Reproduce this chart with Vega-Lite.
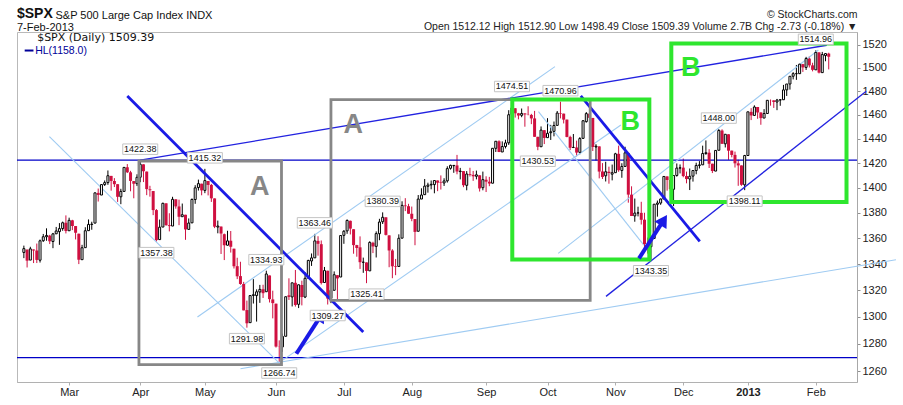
{
  "$schema": "https://vega.github.io/schema/vega-lite/v6.json",
  "width": 840,
  "height": 350,
  "autosize": {"type": "none"},
  "padding": {"left": 17, "top": 32, "right": 46, "bottom": 23},
  "background": "white",
  "config": {
    "view": {"stroke": "#b9b9b9"},
    "axis": {"labelFont": "Liberation Sans", "titleFont": "Liberation Sans"}
  },
  "title": {
    "text": "$SPX",
    "subtitle": "7-Feb-2013",
    "anchor": "start",
    "frame": "group",
    "font": "Liberation Sans",
    "fontSize": 14,
    "fontWeight": "bold",
    "color": "#111111",
    "subtitleFont": "Liberation Sans",
    "subtitleFontSize": 11,
    "subtitleColor": "#111111",
    "subtitlePadding": 1,
    "offset": -24
  },
  "datasets": {
    "spx": [
      {"d":"2012-02-09","t":0,"o":1349.0,"h":1354.3,"l":1344.6,"c":1351.95},
      {"d":"2012-02-10","t":1,"o":1351.2,"h":1351.2,"l":1337.4,"c":1342.64},
      {"d":"2012-02-13","t":2,"o":1343.1,"h":1353.4,"l":1343.1,"c":1351.77},
      {"d":"2012-02-14","t":3,"o":1351.3,"h":1351.3,"l":1340.8,"c":1350.5},
      {"d":"2012-02-15","t":4,"o":1350.5,"h":1355.9,"l":1340.8,"c":1343.23},
      {"d":"2012-02-16","t":5,"o":1343.0,"h":1359.0,"l":1341.2,"c":1358.04},
      {"d":"2012-02-17","t":6,"o":1358.1,"h":1363.4,"l":1357.2,"c":1361.23},
      {"d":"2012-02-21","t":7,"o":1361.2,"h":1367.8,"l":1358.1,"c":1362.21},
      {"d":"2012-02-22","t":8,"o":1362.1,"h":1362.7,"l":1355.5,"c":1357.66},
      {"d":"2012-02-23","t":9,"o":1357.5,"h":1364.2,"l":1352.3,"c":1363.46},
      {"d":"2012-02-24","t":10,"o":1363.5,"h":1368.9,"l":1363.5,"c":1365.74},
      {"d":"2012-02-27","t":11,"o":1365.2,"h":1371.9,"l":1354.9,"c":1367.59},
      {"d":"2012-02-28","t":12,"o":1367.6,"h":1373.1,"l":1365.9,"c":1372.18},
      {"d":"2012-02-29","t":13,"o":1372.2,"h":1378.0,"l":1363.8,"c":1365.68},
      {"d":"2012-03-01","t":14,"o":1365.9,"h":1376.2,"l":1365.9,"c":1374.09},
      {"d":"2012-03-02","t":15,"o":1374.1,"h":1374.5,"l":1366.4,"c":1369.63},
      {"d":"2012-03-05","t":16,"o":1369.6,"h":1369.6,"l":1359.1,"c":1364.33},
      {"d":"2012-03-06","t":17,"o":1363.6,"h":1363.6,"l":1340.0,"c":1343.36},
      {"d":"2012-03-07","t":18,"o":1343.4,"h":1354.9,"l":1343.4,"c":1352.63},
      {"d":"2012-03-08","t":19,"o":1352.7,"h":1368.7,"l":1352.7,"c":1365.91},
      {"d":"2012-03-09","t":20,"o":1365.97,"h":1374.8,"l":1365.9,"c":1370.87},
      {"d":"2012-03-12","t":21,"o":1370.8,"h":1373.0,"l":1366.7,"c":1371.09},
      {"d":"2012-03-13","t":22,"o":1371.9,"h":1396.1,"l":1371.9,"c":1395.95},
      {"d":"2012-03-14","t":23,"o":1395.9,"h":1399.4,"l":1389.0,"c":1394.28},
      {"d":"2012-03-15","t":24,"o":1394.2,"h":1402.6,"l":1394.2,"c":1402.6},
      {"d":"2012-03-16","t":25,"o":1402.6,"h":1405.9,"l":1401.5,"c":1404.17},
      {"d":"2012-03-19","t":26,"o":1404.2,"h":1414.0,"l":1402.4,"c":1409.75},
      {"d":"2012-03-20","t":27,"o":1409.6,"h":1409.6,"l":1397.7,"c":1405.52},
      {"d":"2012-03-21","t":28,"o":1405.5,"h":1407.8,"l":1400.6,"c":1402.89},
      {"d":"2012-03-22","t":29,"o":1402.9,"h":1402.9,"l":1388.7,"c":1392.78},
      {"d":"2012-03-23","t":30,"o":1392.8,"h":1399.2,"l":1386.9,"c":1397.11},
      {"d":"2012-03-26","t":31,"o":1397.1,"h":1416.6,"l":1397.1,"c":1416.51},
      {"d":"2012-03-27","t":32,"o":1416.6,"h":1419.2,"l":1411.9,"c":1412.52},
      {"d":"2012-03-28","t":33,"o":1412.5,"h":1413.7,"l":1397.2,"c":1405.54},
      {"d":"2012-03-29","t":34,"o":1405.4,"h":1405.4,"l":1391.6,"c":1403.28},
      {"d":"2012-03-30","t":35,"o":1403.3,"h":1410.9,"l":1401.4,"c":1408.47},
      {"d":"2012-04-02","t":36,"o":1408.5,"h":1422.38,"l":1404.5,"c":1419.04},
      {"d":"2012-04-03","t":37,"o":1418.98,"h":1419.0,"l":1404.6,"c":1413.38},
      {"d":"2012-04-04","t":38,"o":1413.1,"h":1413.1,"l":1394.1,"c":1398.96},
      {"d":"2012-04-05","t":39,"o":1398.8,"h":1401.6,"l":1392.9,"c":1398.08},
      {"d":"2012-04-09","t":40,"o":1397.4,"h":1397.4,"l":1378.2,"c":1382.2},
      {"d":"2012-04-10","t":41,"o":1382.2,"h":1383.0,"l":1357.38,"c":1358.59},
      {"d":"2012-04-11","t":42,"o":1358.98,"h":1374.7,"l":1358.98,"c":1368.71},
      {"d":"2012-04-12","t":43,"o":1368.8,"h":1388.1,"l":1368.8,"c":1387.57},
      {"d":"2012-04-13","t":44,"o":1387.6,"h":1387.6,"l":1369.9,"c":1370.26},
      {"d":"2012-04-16","t":45,"o":1370.3,"h":1379.7,"l":1365.4,"c":1369.57},
      {"d":"2012-04-17","t":46,"o":1369.6,"h":1392.8,"l":1369.6,"c":1390.78},
      {"d":"2012-04-18","t":47,"o":1390.8,"h":1390.8,"l":1383.3,"c":1385.14},
      {"d":"2012-04-19","t":48,"o":1385.1,"h":1390.5,"l":1370.3,"c":1376.92},
      {"d":"2012-04-20","t":49,"o":1376.96,"h":1387.4,"l":1376.96,"c":1378.53},
      {"d":"2012-04-23","t":50,"o":1378.5,"h":1378.5,"l":1358.8,"c":1366.94},
      {"d":"2012-04-24","t":51,"o":1366.97,"h":1375.6,"l":1366.8,"c":1371.97},
      {"d":"2012-04-25","t":52,"o":1372.1,"h":1391.4,"l":1372.1,"c":1390.69},
      {"d":"2012-04-26","t":53,"o":1390.6,"h":1402.1,"l":1387.2,"c":1399.98},
      {"d":"2012-04-27","t":54,"o":1400.2,"h":1406.6,"l":1397.8,"c":1403.36},
      {"d":"2012-04-30","t":55,"o":1403.3,"h":1403.3,"l":1394.0,"c":1397.91},
      {"d":"2012-05-01","t":56,"o":1397.9,"h":1415.32,"l":1395.7,"c":1405.82},
      {"d":"2012-05-02","t":57,"o":1405.5,"h":1405.5,"l":1393.9,"c":1402.31},
      {"d":"2012-05-03","t":58,"o":1402.3,"h":1403.1,"l":1388.7,"c":1391.57},
      {"d":"2012-05-04","t":59,"o":1391.5,"h":1391.5,"l":1367.96,"c":1369.1},
      {"d":"2012-05-07","t":60,"o":1368.8,"h":1373.9,"l":1363.9,"c":1369.58},
      {"d":"2012-05-08","t":61,"o":1369.2,"h":1369.2,"l":1347.8,"c":1363.72},
      {"d":"2012-05-09","t":62,"o":1363.2,"h":1363.7,"l":1343.1,"c":1354.58},
      {"d":"2012-05-10","t":63,"o":1354.6,"h":1365.9,"l":1354.4,"c":1357.99},
      {"d":"2012-05-11","t":64,"o":1358.1,"h":1365.7,"l":1348.9,"c":1353.39},
      {"d":"2012-05-14","t":65,"o":1351.9,"h":1351.9,"l":1336.6,"c":1338.35},
      {"d":"2012-05-15","t":66,"o":1338.4,"h":1344.9,"l":1328.5,"c":1330.66},
      {"d":"2012-05-16","t":67,"o":1330.8,"h":1341.8,"l":1324.2,"c":1324.8},
      {"d":"2012-05-17","t":68,"o":1324.8,"h":1326.4,"l":1304.9,"c":1304.86},
      {"d":"2012-05-18","t":69,"o":1305.1,"h":1312.2,"l":1291.98,"c":1295.22},
      {"d":"2012-05-21","t":70,"o":1295.7,"h":1316.4,"l":1295.7,"c":1315.99},
      {"d":"2012-05-22","t":71,"o":1316.1,"h":1328.5,"l":1310.0,"c":1316.63},
      {"d":"2012-05-23","t":72,"o":1316.0,"h":1320.7,"l":1296.5,"c":1318.86},
      {"d":"2012-05-24","t":73,"o":1318.7,"h":1324.1,"l":1310.5,"c":1320.68},
      {"d":"2012-05-25","t":74,"o":1320.8,"h":1324.2,"l":1314.2,"c":1317.82},
      {"d":"2012-05-29","t":75,"o":1318.9,"h":1334.93,"l":1318.9,"c":1332.42},
      {"d":"2012-05-30","t":76,"o":1331.3,"h":1331.3,"l":1310.8,"c":1313.32},
      {"d":"2012-05-31","t":77,"o":1313.1,"h":1319.7,"l":1298.9,"c":1310.33},
      {"d":"2012-06-01","t":78,"o":1309.9,"h":1309.9,"l":1277.3,"c":1278.04},
      {"d":"2012-06-04","t":79,"o":1278.3,"h":1282.6,"l":1266.74,"c":1278.18},
      {"d":"2012-06-05","t":80,"o":1277.8,"h":1287.6,"l":1274.2,"c":1285.5},
      {"d":"2012-06-06","t":81,"o":1285.6,"h":1315.1,"l":1285.6,"c":1315.13},
      {"d":"2012-06-07","t":82,"o":1316.2,"h":1329.1,"l":1312.7,"c":1314.99},
      {"d":"2012-06-08","t":83,"o":1314.99,"h":1325.8,"l":1307.8,"c":1325.66},
      {"d":"2012-06-11","t":84,"o":1325.7,"h":1335.5,"l":1307.7,"c":1308.93},
      {"d":"2012-06-12","t":85,"o":1309.4,"h":1324.3,"l":1306.6,"c":1324.18},
      {"d":"2012-06-13","t":86,"o":1324.0,"h":1327.3,"l":1308.6,"c":1314.88},
      {"d":"2012-06-14","t":87,"o":1314.9,"h":1333.7,"l":1314.1,"c":1329.1},
      {"d":"2012-06-15","t":88,"o":1329.2,"h":1343.3,"l":1329.2,"c":1342.84},
      {"d":"2012-06-18","t":89,"o":1342.4,"h":1348.2,"l":1338.6,"c":1344.78},
      {"d":"2012-06-19","t":90,"o":1344.8,"h":1363.46,"l":1344.8,"c":1357.98},
      {"d":"2012-06-20","t":91,"o":1358.0,"h":1361.6,"l":1346.5,"c":1355.69},
      {"d":"2012-06-21","t":92,"o":1355.4,"h":1358.3,"l":1324.4,"c":1325.51},
      {"d":"2012-06-22","t":93,"o":1325.9,"h":1337.8,"l":1325.9,"c":1335.02},
      {"d":"2012-06-25","t":94,"o":1334.9,"h":1334.9,"l":1309.27,"c":1313.72},
      {"d":"2012-06-26","t":95,"o":1314.1,"h":1324.2,"l":1310.3,"c":1319.99},
      {"d":"2012-06-27","t":96,"o":1320.0,"h":1334.4,"l":1320.0,"c":1331.85},
      {"d":"2012-06-28","t":97,"o":1331.5,"h":1331.5,"l":1313.3,"c":1329.04},
      {"d":"2012-06-29","t":98,"o":1330.1,"h":1362.2,"l":1330.1,"c":1362.16},
      {"d":"2012-07-02","t":99,"o":1362.3,"h":1366.4,"l":1355.7,"c":1365.51},
      {"d":"2012-07-03","t":100,"o":1365.8,"h":1374.8,"l":1363.5,"c":1374.02},
      {"d":"2012-07-05","t":101,"o":1373.7,"h":1373.9,"l":1363.0,"c":1367.58},
      {"d":"2012-07-06","t":102,"o":1367.1,"h":1367.1,"l":1348.0,"c":1354.68},
      {"d":"2012-07-09","t":103,"o":1354.7,"h":1354.9,"l":1345.7,"c":1352.46},
      {"d":"2012-07-10","t":104,"o":1352.96,"h":1361.5,"l":1336.3,"c":1341.47},
      {"d":"2012-07-11","t":105,"o":1341.4,"h":1345.0,"l":1333.3,"c":1341.45},
      {"d":"2012-07-12","t":106,"o":1341.3,"h":1341.3,"l":1325.41,"c":1334.76},
      {"d":"2012-07-13","t":107,"o":1334.8,"h":1357.7,"l":1334.8,"c":1356.78},
      {"d":"2012-07-16","t":108,"o":1356.5,"h":1357.3,"l":1348.5,"c":1353.64},
      {"d":"2012-07-17","t":109,"o":1353.7,"h":1365.4,"l":1345.1,"c":1363.67},
      {"d":"2012-07-18","t":110,"o":1363.6,"h":1375.3,"l":1358.5,"c":1372.78},
      {"d":"2012-07-19","t":111,"o":1373.0,"h":1380.39,"l":1371.2,"c":1376.51},
      {"d":"2012-07-20","t":112,"o":1376.5,"h":1376.5,"l":1362.2,"c":1362.66},
      {"d":"2012-07-23","t":113,"o":1362.3,"h":1362.3,"l":1337.6,"c":1350.52},
      {"d":"2012-07-24","t":114,"o":1350.5,"h":1351.5,"l":1329.2,"c":1338.31},
      {"d":"2012-07-25","t":115,"o":1338.4,"h":1343.98,"l":1331.5,"c":1337.89},
      {"d":"2012-07-26","t":116,"o":1338.2,"h":1363.1,"l":1338.2,"c":1360.02},
      {"d":"2012-07-27","t":117,"o":1360.1,"h":1389.2,"l":1360.1,"c":1385.97},
      {"d":"2012-07-30","t":118,"o":1385.9,"h":1391.7,"l":1381.4,"c":1385.3},
      {"d":"2012-07-31","t":119,"o":1385.3,"h":1387.2,"l":1379.2,"c":1379.32},
      {"d":"2012-08-01","t":120,"o":1379.3,"h":1385.0,"l":1373.4,"c":1375.32},
      {"d":"2012-08-02","t":121,"o":1375.1,"h":1375.1,"l":1354.6,"c":1365.0},
      {"d":"2012-08-03","t":122,"o":1365.5,"h":1394.2,"l":1365.5,"c":1390.99},
      {"d":"2012-08-06","t":123,"o":1391.0,"h":1399.6,"l":1391.0,"c":1394.23},
      {"d":"2012-08-07","t":124,"o":1394.5,"h":1407.1,"l":1394.5,"c":1401.35},
      {"d":"2012-08-08","t":125,"o":1401.2,"h":1404.1,"l":1396.1,"c":1402.22},
      {"d":"2012-08-09","t":126,"o":1402.3,"h":1405.9,"l":1398.8,"c":1402.8},
      {"d":"2012-08-10","t":127,"o":1402.6,"h":1405.9,"l":1395.6,"c":1405.87},
      {"d":"2012-08-13","t":128,"o":1405.9,"h":1405.9,"l":1397.3,"c":1404.11},
      {"d":"2012-08-14","t":129,"o":1404.4,"h":1410.0,"l":1398.6,"c":1403.93},
      {"d":"2012-08-15","t":130,"o":1403.9,"h":1407.7,"l":1401.5,"c":1405.53},
      {"d":"2012-08-16","t":131,"o":1405.6,"h":1417.4,"l":1404.2,"c":1415.51},
      {"d":"2012-08-17","t":132,"o":1415.8,"h":1418.7,"l":1414.7,"c":1418.16},
      {"d":"2012-08-20","t":133,"o":1417.9,"h":1418.1,"l":1412.1,"c":1418.13},
      {"d":"2012-08-21","t":134,"o":1418.1,"h":1426.7,"l":1410.9,"c":1413.17},
      {"d":"2012-08-22","t":135,"o":1413.1,"h":1416.1,"l":1406.8,"c":1413.49},
      {"d":"2012-08-23","t":136,"o":1413.5,"h":1413.5,"l":1400.5,"c":1402.08},
      {"d":"2012-08-24","t":137,"o":1401.99,"h":1413.5,"l":1398.0,"c":1411.13},
      {"d":"2012-08-27","t":138,"o":1411.1,"h":1416.2,"l":1409.1,"c":1410.44},
      {"d":"2012-08-28","t":139,"o":1410.4,"h":1413.6,"l":1405.6,"c":1409.3},
      {"d":"2012-08-29","t":140,"o":1409.3,"h":1413.9,"l":1406.8,"c":1410.49},
      {"d":"2012-08-30","t":141,"o":1410.1,"h":1410.1,"l":1397.0,"c":1399.48},
      {"d":"2012-08-31","t":142,"o":1400.1,"h":1413.1,"l":1398.0,"c":1406.58},
      {"d":"2012-09-04","t":143,"o":1406.5,"h":1409.3,"l":1396.6,"c":1404.94},
      {"d":"2012-09-05","t":144,"o":1404.9,"h":1408.8,"l":1401.3,"c":1403.44},
      {"d":"2012-09-06","t":145,"o":1403.7,"h":1432.1,"l":1403.7,"c":1432.12},
      {"d":"2012-09-07","t":146,"o":1432.1,"h":1437.9,"l":1429.1,"c":1437.92},
      {"d":"2012-09-10","t":147,"o":1437.9,"h":1438.7,"l":1428.98,"c":1429.08},
      {"d":"2012-09-11","t":148,"o":1429.1,"h":1437.8,"l":1429.1,"c":1433.56},
      {"d":"2012-09-12","t":149,"o":1433.6,"h":1439.2,"l":1432.0,"c":1436.56},
      {"d":"2012-09-13","t":150,"o":1436.6,"h":1463.8,"l":1434.9,"c":1459.99},
      {"d":"2012-09-14","t":151,"o":1460.1,"h":1474.51,"l":1460.1,"c":1465.77},
      {"d":"2012-09-17","t":152,"o":1465.4,"h":1465.6,"l":1457.6,"c":1461.19},
      {"d":"2012-09-18","t":153,"o":1461.2,"h":1461.5,"l":1456.1,"c":1459.32},
      {"d":"2012-09-19","t":154,"o":1459.5,"h":1465.2,"l":1457.9,"c":1461.05},
      {"d":"2012-09-20","t":155,"o":1461.1,"h":1461.2,"l":1449.98,"c":1460.26},
      {"d":"2012-09-21","t":156,"o":1460.3,"h":1467.1,"l":1459.5,"c":1460.15},
      {"d":"2012-09-24","t":157,"o":1459.8,"h":1460.7,"l":1452.1,"c":1456.89},
      {"d":"2012-09-25","t":158,"o":1456.9,"h":1463.2,"l":1441.6,"c":1441.59},
      {"d":"2012-09-26","t":159,"o":1441.6,"h":1441.6,"l":1430.53,"c":1433.32},
      {"d":"2012-09-27","t":160,"o":1433.4,"h":1450.2,"l":1433.4,"c":1447.15},
      {"d":"2012-09-28","t":161,"o":1447.1,"h":1447.1,"l":1435.6,"c":1440.67},
      {"d":"2012-10-01","t":162,"o":1440.9,"h":1457.1,"l":1440.9,"c":1444.49},
      {"d":"2012-10-02","t":163,"o":1444.99,"h":1451.5,"l":1439.0,"c":1445.75},
      {"d":"2012-10-03","t":164,"o":1446.1,"h":1454.3,"l":1441.99,"c":1450.99},
      {"d":"2012-10-04","t":165,"o":1451.1,"h":1463.1,"l":1451.1,"c":1461.4},
      {"d":"2012-10-05","t":166,"o":1461.4,"h":1470.96,"l":1456.9,"c":1460.93},
      {"d":"2012-10-08","t":167,"o":1460.9,"h":1460.9,"l":1452.7,"c":1455.88},
      {"d":"2012-10-09","t":168,"o":1455.9,"h":1455.9,"l":1441.2,"c":1441.48},
      {"d":"2012-10-10","t":169,"o":1441.5,"h":1442.5,"l":1430.6,"c":1432.56},
      {"d":"2012-10-11","t":170,"o":1432.8,"h":1443.9,"l":1432.3,"c":1432.84},
      {"d":"2012-10-12","t":171,"o":1432.8,"h":1438.4,"l":1425.5,"c":1428.59},
      {"d":"2012-10-15","t":172,"o":1428.8,"h":1441.3,"l":1427.2,"c":1440.13},
      {"d":"2012-10-16","t":173,"o":1440.3,"h":1455.5,"l":1440.3,"c":1454.92},
      {"d":"2012-10-17","t":174,"o":1454.2,"h":1462.2,"l":1453.4,"c":1460.91},
      {"d":"2012-10-18","t":175,"o":1460.9,"h":1464.0,"l":1452.6,"c":1457.34},
      {"d":"2012-10-19","t":176,"o":1457.3,"h":1457.3,"l":1429.9,"c":1433.19},
      {"d":"2012-10-22","t":177,"o":1433.2,"h":1435.5,"l":1422.1,"c":1433.82},
      {"d":"2012-10-23","t":178,"o":1433.7,"h":1433.7,"l":1407.6,"c":1413.11},
      {"d":"2012-10-24","t":179,"o":1413.2,"h":1420.0,"l":1407.1,"c":1408.75},
      {"d":"2012-10-25","t":180,"o":1409.7,"h":1421.1,"l":1405.1,"c":1412.97},
      {"d":"2012-10-26","t":181,"o":1412.97,"h":1417.1,"l":1403.3,"c":1411.94},
      {"d":"2012-10-31","t":182,"o":1410.99,"h":1418.8,"l":1405.99,"c":1412.16},
      {"d":"2012-11-01","t":183,"o":1412.2,"h":1428.4,"l":1412.2,"c":1427.59},
      {"d":"2012-11-02","t":184,"o":1427.6,"h":1434.3,"l":1412.9,"c":1414.2},
      {"d":"2012-11-05","t":185,"o":1414.0,"h":1419.9,"l":1408.1,"c":1417.26},
      {"d":"2012-11-06","t":186,"o":1417.3,"h":1433.4,"l":1417.3,"c":1428.39},
      {"d":"2012-11-07","t":187,"o":1428.3,"h":1428.3,"l":1388.1,"c":1394.53},
      {"d":"2012-11-08","t":188,"o":1394.5,"h":1401.2,"l":1377.5,"c":1377.51},
      {"d":"2012-11-09","t":189,"o":1377.6,"h":1391.4,"l":1373.0,"c":1379.85},
      {"d":"2012-11-12","t":190,"o":1379.9,"h":1384.9,"l":1377.2,"c":1380.03},
      {"d":"2012-11-13","t":191,"o":1380.0,"h":1388.8,"l":1370.8,"c":1374.53},
      {"d":"2012-11-14","t":192,"o":1374.6,"h":1380.1,"l":1352.5,"c":1355.49},
      {"d":"2012-11-15","t":193,"o":1355.4,"h":1360.6,"l":1348.1,"c":1353.33},
      {"d":"2012-11-16","t":194,"o":1353.4,"h":1362.0,"l":1343.35,"c":1359.88},
      {"d":"2012-11-19","t":195,"o":1359.9,"h":1386.9,"l":1359.9,"c":1386.89},
      {"d":"2012-11-20","t":196,"o":1386.8,"h":1389.8,"l":1377.0,"c":1387.81},
      {"d":"2012-11-21","t":197,"o":1387.8,"h":1391.3,"l":1386.4,"c":1391.03},
      {"d":"2012-11-23","t":198,"o":1391.0,"h":1409.2,"l":1391.0,"c":1409.15},
      {"d":"2012-11-26","t":199,"o":1409.2,"h":1409.2,"l":1397.7,"c":1406.29},
      {"d":"2012-11-27","t":200,"o":1406.3,"h":1409.0,"l":1397.8,"c":1398.94},
      {"d":"2012-11-28","t":201,"o":1398.8,"h":1410.0,"l":1385.4,"c":1409.93},
      {"d":"2012-11-29","t":202,"o":1409.96,"h":1419.7,"l":1409.0,"c":1415.95},
      {"d":"2012-11-30","t":203,"o":1415.95,"h":1418.9,"l":1411.6,"c":1416.18},
      {"d":"2012-12-03","t":204,"o":1416.3,"h":1423.7,"l":1408.5,"c":1409.46},
      {"d":"2012-12-04","t":205,"o":1409.5,"h":1413.1,"l":1403.6,"c":1407.05},
      {"d":"2012-12-05","t":206,"o":1407.1,"h":1415.6,"l":1398.2,"c":1409.28},
      {"d":"2012-12-06","t":207,"o":1409.4,"h":1413.9,"l":1405.0,"c":1413.94},
      {"d":"2012-12-07","t":208,"o":1413.95,"h":1420.3,"l":1410.9,"c":1418.07},
      {"d":"2012-12-10","t":209,"o":1418.1,"h":1421.6,"l":1415.6,"c":1418.55},
      {"d":"2012-12-11","t":210,"o":1418.6,"h":1434.3,"l":1418.6,"c":1427.84},
      {"d":"2012-12-12","t":211,"o":1427.8,"h":1438.6,"l":1426.8,"c":1428.48},
      {"d":"2012-12-13","t":212,"o":1428.5,"h":1431.4,"l":1416.0,"c":1419.45},
      {"d":"2012-12-14","t":213,"o":1419.5,"h":1419.5,"l":1411.9,"c":1413.58},
      {"d":"2012-12-17","t":214,"o":1413.5,"h":1430.7,"l":1413.5,"c":1430.36},
      {"d":"2012-12-18","t":215,"o":1430.5,"h":1448.0,"l":1430.5,"c":1446.79},
      {"d":"2012-12-19","t":216,"o":1446.8,"h":1447.8,"l":1435.8,"c":1435.81},
      {"d":"2012-12-20","t":217,"o":1435.8,"h":1443.7,"l":1432.8,"c":1443.69},
      {"d":"2012-12-21","t":218,"o":1443.7,"h":1443.7,"l":1422.6,"c":1430.15},
      {"d":"2012-12-24","t":219,"o":1430.2,"h":1430.2,"l":1424.7,"c":1426.66},
      {"d":"2012-12-26","t":220,"o":1426.7,"h":1429.4,"l":1416.4,"c":1419.83},
      {"d":"2012-12-27","t":221,"o":1419.8,"h":1422.8,"l":1401.6,"c":1418.1},
      {"d":"2012-12-28","t":222,"o":1418.1,"h":1418.1,"l":1401.6,"c":1402.43},
      {"d":"2012-12-31","t":223,"o":1402.4,"h":1426.7,"l":1398.11,"c":1426.19},
      {"d":"2013-01-02","t":224,"o":1426.2,"h":1462.4,"l":1426.2,"c":1462.42},
      {"d":"2013-01-03","t":225,"o":1462.4,"h":1465.5,"l":1455.5,"c":1459.37},
      {"d":"2013-01-04","t":226,"o":1459.4,"h":1467.9,"l":1458.99,"c":1466.47},
      {"d":"2013-01-07","t":227,"o":1466.5,"h":1466.5,"l":1456.6,"c":1461.89},
      {"d":"2013-01-08","t":228,"o":1461.9,"h":1461.9,"l":1451.6,"c":1457.15},
      {"d":"2013-01-09","t":229,"o":1457.2,"h":1464.7,"l":1457.2,"c":1461.02},
      {"d":"2013-01-10","t":230,"o":1461.0,"h":1472.3,"l":1461.0,"c":1472.12},
      {"d":"2013-01-11","t":231,"o":1472.1,"h":1472.8,"l":1467.6,"c":1472.05},
      {"d":"2013-01-14","t":232,"o":1472.1,"h":1472.1,"l":1465.7,"c":1470.68},
      {"d":"2013-01-15","t":233,"o":1470.7,"h":1473.3,"l":1463.8,"c":1472.34},
      {"d":"2013-01-16","t":234,"o":1472.3,"h":1473.0,"l":1467.5,"c":1472.63},
      {"d":"2013-01-17","t":235,"o":1472.6,"h":1485.2,"l":1472.6,"c":1480.94},
      {"d":"2013-01-18","t":236,"o":1480.95,"h":1485.98,"l":1475.8,"c":1485.98},
      {"d":"2013-01-22","t":237,"o":1485.98,"h":1492.6,"l":1481.2,"c":1492.56},
      {"d":"2013-01-23","t":238,"o":1492.6,"h":1496.1,"l":1489.9,"c":1494.81},
      {"d":"2013-01-24","t":239,"o":1494.8,"h":1502.3,"l":1489.5,"c":1494.82},
      {"d":"2013-01-25","t":240,"o":1494.8,"h":1503.3,"l":1494.8,"c":1502.96},
      {"d":"2013-01-28","t":241,"o":1503.0,"h":1503.2,"l":1496.3,"c":1500.18},
      {"d":"2013-01-29","t":242,"o":1500.2,"h":1509.3,"l":1498.0,"c":1507.84},
      {"d":"2013-01-30","t":243,"o":1507.8,"h":1509.9,"l":1500.1,"c":1501.96},
      {"d":"2013-01-31","t":244,"o":1501.97,"h":1504.2,"l":1496.8,"c":1498.11},
      {"d":"2013-02-01","t":245,"o":1498.1,"h":1514.96,"l":1498.1,"c":1513.17},
      {"d":"2013-02-04","t":246,"o":1513.2,"h":1513.2,"l":1495.0,"c":1495.71},
      {"d":"2013-02-05","t":247,"o":1495.7,"h":1513.6,"l":1495.7,"c":1511.29},
      {"d":"2013-02-06","t":248,"o":1510.4,"h":1512.5,"l":1505.5,"c":1512.12},
      {"d":"2013-02-07","t":249,"o":1512.12,"h":1512.9,"l":1498.49,"c":1509.39}
    ],
    "hlines": [{"name": "Apr high", "p": 1422.38}, {"name": "Jun low", "p": 1270}],
    "lightLines": [
      {"id":"a","t":7.9,"p":1441.8},{"id":"a","t":79.1,"p":1265.7},
      {"id":"b","t":53.7,"p":1299.9},{"id":"b","t":164.3,"p":1500.9},
      {"id":"c","t":79.1,"p":1266.5},{"id":"c","t":184.7,"p":1451.4},
      {"id":"d","t":165.3,"p":1348.3},{"id":"d","t":245.8,"p":1515.3},
      {"id":"e","t":159.2,"p":1462.6},{"id":"e","t":191.8,"p":1354.7},
      {"id":"f","t":67.0,"p":1261.9},{"id":"f","t":269.8,"p":1343.4}
    ],
    "thinLines": [
      {"id":"r","t":36,"p":1422.38},{"id":"r","t":248.4,"p":1519.4},
      {"id":"u","t":180.1,"p":1315.4},{"id":"u","t":260.6,"p":1479.8}
    ],
    "boldLines": [
      {"id":"d1","t":32.0,"p":1475.8},{"id":"d1","t":105.0,"p":1288.7},
      {"id":"d2","t":172.3,"p":1475.8},{"id":"d2","t":209.1,"p":1357.6}
    ],
    "arrows": [
      {"id":1,"t":84.3,"p":1272.8},{"id":1,"t":91.96,"p":1301.1},
      {"id":2,"t":190.3,"p":1344.4},{"id":2,"t":197.95,"p":1374.3}
    ],
    "heads": [{"id":1,"t":91.96,"p":1301.1},{"id":2,"t":197.95,"p":1374.3}],
    "boxes": [
      {"grp":"A","t":35.6,"t2":79.7,"p":1421.7,"p2":1264.8},
      {"grp":"A","t":95.0,"t2":175.2,"p":1472.7,"p2":1312.4},
      {"grp":"B","t":151.1,"t2":193.5,"p":1472.7,"p2":1343.6},
      {"grp":"B","t":200.3,"t2":254.5,"p":1520.9,"p2":1388.6}
    ],
    "letters": [
      {"grp":"A","t":73.0,"p":1400.4},{"grp":"A","t":101.9,"p":1451.2},
      {"grp":"B","t":187.6,"p":1453.9},{"grp":"B","t":206.3,"p":1499.7}
    ],
    "extremes": [
      {"kind":"high","t":36,"p":1422.38},{"kind":"high","t":56,"p":1415.32},
      {"kind":"high","t":75,"p":1334.93},{"kind":"high","t":90,"p":1363.46},
      {"kind":"high","t":111,"p":1380.39},{"kind":"high","t":151,"p":1474.51},
      {"kind":"high","t":166,"p":1470.96},{"kind":"high","t":215,"p":1448.0},
      {"kind":"high","t":245,"p":1514.96},
      {"kind":"low","t":41,"p":1357.38},{"kind":"low","t":69,"p":1291.98},
      {"kind":"low","t":79,"p":1266.74},{"kind":"low","t":94,"p":1309.27},
      {"kind":"low","t":106,"p":1325.41},{"kind":"low","t":159,"p":1430.53},
      {"kind":"low","t":194,"p":1343.35},{"kind":"low","t":223,"p":1398.11}
    ],
    "keys": [
      {"item":"price","t":4.1,"p":1525.5,"text":"$SPX (Daily) 1509.39"},
      {"item":"hl","t":3.5,"p":1514.8,"text":"HL(1158.0)"}
    ],
    "keyLine": [{"t":0.25,"p":1514.8},{"t":2.97,"p":1514.8}]
  },
  "layer": [
    {
      "data": {"name": "spx"},
      "mark": {"type": "rule", "strokeWidth": 1},
      "encoding": {
        "x": {
          "field": "t",
          "type": "quantitative",
          "scale": {"domain": [-0.58, 256.2], "nice": false, "zero": false},
          "axis": {
            "values": [14, 36, 56, 78, 99, 120, 143, 162, 183, 204, 224, 245],
            "labelExpr": "['Mar','Apr','May','Jun','Jul','Aug','Sep','Oct','Nov','Dec','2013','Feb'][indexof([14,36,56,78,99,120,143,162,183,204,224,245], datum.value)]",
            "labelFontWeight": {"condition": {"test": "datum.value === 224", "value": "bold"}, "value": "normal"},
            "labelFontSize": 11,
            "labelColor": "#222222",
            "labelPadding": 1.5,
            "labelFlush": false,
            "labelOverlap": false,
            "grid": false,
            "domainColor": "#a8a8a8",
            "domainDash": [1, 1],
            "tickColor": "#b0b0b0",
            "tickSize": 3,
            "title": "S&P 500 Large Cap Index INDX",
            "titleFontSize": 11,
            "titleFontWeight": "normal",
            "titleColor": "#111111",
            "titleAlign": "left",
            "titleAnchor": "start",
            "titleBaseline": "alphabetic",
            "titleX": 38,
            "titleY": -364
          }
        },
        "y": {
          "field": "l",
          "type": "quantitative",
          "scale": {"type": "log", "domain": [1252.3, 1531], "nice": false, "zero": false},
          "axis": {
            "orient": "right",
            "values": [1260, 1280, 1300, 1320, 1340, 1360, 1380, 1400, 1420, 1440, 1460, 1480, 1500, 1520],
            "format": "d",
            "grid": false,
            "labelFontSize": 11,
            "labelColor": "#222222",
            "labelPadding": 2,
            "tickSize": 3,
            "tickColor": "#909090",
            "domainColor": "#a8a8a8",
            "title": ["© StockCharts.com", "Open 1512.12  High 1512.90  Low 1498.49  Close 1509.39  Volume 2.7B  Chg -2.73 (-0.18%) ▼"],
            "titleFontSize": 10.5,
            "titleFontWeight": "normal",
            "titleColor": "#222222",
            "titleAngle": 0,
            "titleAlign": "right",
            "titleBaseline": "top",
            "titleLineHeight": 12.5,
            "titleX": 0,
            "titleY": -23
          }
        },
        "y2": {"field": "h"},
        "color": {"condition": {"test": "datum.c < datum.o", "value": "#cf1040"}, "value": "#000000"}
      }
    },
    {
      "data": {"name": "hlines"},
      "mark": {"type": "rule", "color": "#0000c8", "strokeWidth": 1.2},
      "encoding": {
        "y": {"field": "p", "type": "quantitative"}
      }
    },
    {
      "data": {"name": "lightLines"},
      "mark": {"type": "line", "color": "#9fcbf2", "strokeWidth": 1.1},
      "encoding": {
        "x": {"field": "t", "type": "quantitative"},
        "y": {"field": "p", "type": "quantitative"},
        "detail": {"field": "id"}
      }
    },
    {
      "data": {"name": "spx"},
      "transform": [{"filter": "datum.c < datum.o"}],
      "mark": {"type": "bar", "size": 3, "color": "#cf1040"},
      "encoding": {
        "x": {"field": "t", "type": "quantitative"},
        "y": {"field": "o", "type": "quantitative"},
        "y2": {"field": "c"}
      }
    },
    {
      "data": {"name": "spx"},
      "transform": [{"filter": "datum.c >= datum.o"}],
      "mark": {"type": "bar", "size": 2, "fill": "#ffffff", "stroke": "#000000", "strokeWidth": 1},
      "encoding": {
        "x": {"field": "t", "type": "quantitative"},
        "y": {"field": "o", "type": "quantitative"},
        "y2": {"field": "c"}
      }
    },
    {
      "data": {"name": "thinLines"},
      "mark": {"type": "line", "color": "#2222e0", "strokeWidth": 1.3},
      "encoding": {
        "x": {"field": "t", "type": "quantitative"},
        "y": {"field": "p", "type": "quantitative"},
        "detail": {"field": "id"}
      }
    },
    {
      "data": {"name": "boldLines"},
      "mark": {"type": "line", "color": "#1a1ae6", "strokeWidth": 2.8},
      "encoding": {
        "x": {"field": "t", "type": "quantitative"},
        "y": {"field": "p", "type": "quantitative"},
        "detail": {"field": "id"}
      }
    },
    {
      "data": {"name": "boxes"},
      "transform": [{"filter": "datum.grp === 'A'"}],
      "mark": {"type": "rect", "fill": null, "fillOpacity": 0, "stroke": "#878787", "strokeWidth": 2.8},
      "encoding": {
        "x": {"field": "t", "type": "quantitative"},
        "x2": {"field": "t2"},
        "y": {"field": "p", "type": "quantitative"},
        "y2": {"field": "p2"}
      }
    },
    {
      "data": {"name": "boxes"},
      "transform": [{"filter": "datum.grp === 'B'"}],
      "mark": {"type": "rect", "fill": null, "fillOpacity": 0, "stroke": "#2ee62e", "strokeWidth": 4},
      "encoding": {
        "x": {"field": "t", "type": "quantitative"},
        "x2": {"field": "t2"},
        "y": {"field": "p", "type": "quantitative"},
        "y2": {"field": "p2"}
      }
    },
    {
      "data": {"name": "arrows"},
      "mark": {"type": "line", "color": "#1a1ae6", "strokeWidth": 4},
      "encoding": {
        "x": {"field": "t", "type": "quantitative"},
        "y": {"field": "p", "type": "quantitative"},
        "detail": {"field": "id"}
      }
    },
    {
      "data": {"name": "heads"},
      "mark": {"type": "point", "shape": "triangle-up", "angle": 32, "size": 200, "filled": true, "opacity": 1, "color": "#1a1ae6"},
      "encoding": {
        "x": {"field": "t", "type": "quantitative"},
        "y": {"field": "p", "type": "quantitative"}
      }
    },
    {
      "data": {"name": "letters"},
      "transform": [{"filter": "datum.grp === 'A'"}],
      "mark": {"type": "text", "font": "Liberation Sans", "fontSize": 27, "fontWeight": "bold", "color": "#878787", "align": "center", "baseline": "middle"},
      "encoding": {
        "x": {"field": "t", "type": "quantitative"},
        "y": {"field": "p", "type": "quantitative"},
        "text": {"field": "grp"}
      }
    },
    {
      "data": {"name": "letters"},
      "transform": [{"filter": "datum.grp === 'B'"}],
      "mark": {"type": "text", "font": "Liberation Sans", "fontSize": 27, "fontWeight": "bold", "color": "#2ee62e", "align": "center", "baseline": "middle"},
      "encoding": {
        "x": {"field": "t", "type": "quantitative"},
        "y": {"field": "p", "type": "quantitative"},
        "text": {"field": "grp"}
      }
    },
    {
      "data": {"name": "extremes"},
      "transform": [{"filter": "datum.kind === 'high'"}],
      "mark": {"type": "point", "shape": "M-1,-0.3H1V0.3H-1Z", "size": 1225, "filled": true, "opacity": 1, "fill": "#ffffff", "stroke": "#c4c4c4", "strokeWidth": 1, "yOffset": -11},
      "encoding": {
        "x": {"field": "t", "type": "quantitative"},
        "y": {"field": "p", "type": "quantitative"}
      }
    },
    {
      "data": {"name": "extremes"},
      "transform": [{"filter": "datum.kind === 'low'"}],
      "mark": {"type": "point", "shape": "M-1,-0.3H1V0.3H-1Z", "size": 1225, "filled": true, "opacity": 1, "fill": "#ffffff", "stroke": "#c4c4c4", "strokeWidth": 1, "yOffset": 11},
      "encoding": {
        "x": {"field": "t", "type": "quantitative"},
        "y": {"field": "p", "type": "quantitative"}
      }
    },
    {
      "data": {"name": "extremes"},
      "transform": [{"filter": "datum.kind === 'high'"}],
      "mark": {"type": "text", "font": "Liberation Sans", "fontSize": 9, "color": "#111111", "align": "center", "baseline": "middle", "yOffset": -11},
      "encoding": {
        "x": {"field": "t", "type": "quantitative"},
        "y": {"field": "p", "type": "quantitative"},
        "text": {"field": "p", "format": ".2f"}
      }
    },
    {
      "data": {"name": "extremes"},
      "transform": [{"filter": "datum.kind === 'low'"}],
      "mark": {"type": "text", "font": "Liberation Sans", "fontSize": 9, "color": "#111111", "align": "center", "baseline": "middle", "yOffset": 11},
      "encoding": {
        "x": {"field": "t", "type": "quantitative"},
        "y": {"field": "p", "type": "quantitative"},
        "text": {"field": "p", "format": ".2f"}
      }
    },
    {
      "data": {"name": "keyLine"},
      "mark": {"type": "line", "color": "#000099", "strokeWidth": 2},
      "encoding": {
        "x": {"field": "t", "type": "quantitative"},
        "y": {"field": "p", "type": "quantitative"}
      }
    },
    {
      "data": {"name": "keys"},
      "transform": [{"filter": "datum.item === 'price'"}],
      "mark": {"type": "text", "font": "DejaVu Sans", "fontSize": 11, "color": "#111111", "align": "left", "baseline": "middle"},
      "encoding": {
        "x": {"field": "t", "type": "quantitative"},
        "y": {"field": "p", "type": "quantitative"},
        "text": {"field": "text"}
      }
    },
    {
      "data": {"name": "keys"},
      "transform": [{"filter": "datum.item === 'hl'"}],
      "mark": {"type": "text", "font": "Liberation Sans", "fontSize": 10.5, "color": "#000099", "align": "left", "baseline": "middle"},
      "encoding": {
        "x": {"field": "t", "type": "quantitative"},
        "y": {"field": "p", "type": "quantitative"},
        "text": {"field": "text"}
      }
    }
  ]
}
